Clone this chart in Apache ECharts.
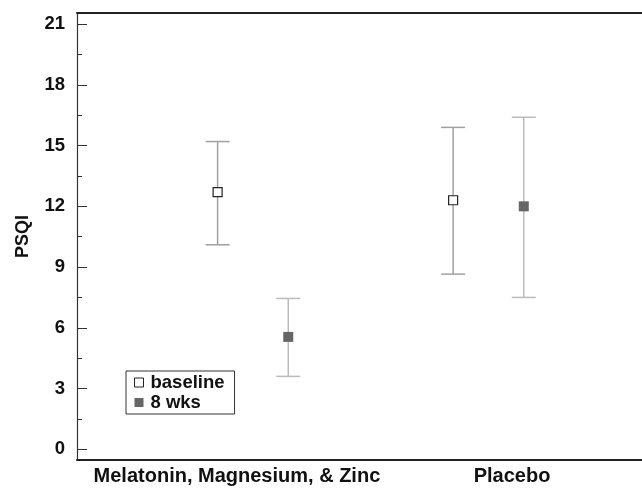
<!DOCTYPE html>
<html>
<head>
<meta charset="utf-8">
<script src="https://cdn.jsdelivr.net/npm/echarts@6/dist/echarts.min.js"></script>
<style>
  html, body { margin: 0; padding: 0; background: #fff; }
  #psqi { width: 642px; height: 488px; }
</style>
</head>
<body>
<div id="psqi"></div>
<script>
// groups on the x axis
const groups = ['Melatonin, Magnesium, & Zinc', 'Placebo'];

// baseline: mean and error bar ends
const baseMean = [12.7, 12.3];
const baseLow = [10.1, 8.65];
const baseHigh = [15.2, 15.9];

// 8 weeks: mean and error bar ends
const wkMean = [5.55, 12.0];
const wkLow = [3.6, 7.5];
const wkHigh = [7.45, 16.4];

const yTicks = [0, 3, 6, 9, 12, 15, 18, 21];
const yMinor = [1.5, 4.5, 7.5, 10.5, 13.5, 16.5, 19.5];

const FONT = 'Liberation Sans, Arial, sans-serif';
const shift = 0.15;      // side offset of each series inside its group
const labelPos = [0.932, 2.1];

function pts(mean, low, high, off) {
    return mean.map(function (m, i) { return [i + 1 + off, m, low[i], high[i]]; });
}

function errBars(color) {
    return function (params, api) {
        const x = api.value(0);
        const lo = api.coord([x, api.value(2)]);
        const hi = api.coord([x, api.value(3)]);
        const w = 12;
        const st = { stroke: color, lineWidth: 1.5 };
        return {
            type: 'group',
            children: [
                { type: 'line', shape: { x1: lo[0], y1: lo[1], x2: hi[0], y2: hi[1] }, style: st },
                { type: 'line', shape: { x1: lo[0] - w, y1: lo[1], x2: lo[0] + w, y2: lo[1] }, style: st },
                { type: 'line', shape: { x1: hi[0] - w, y1: hi[1], x2: hi[0] + w, y2: hi[1] }, style: st }
            ]
        };
    };
}

const chart = echarts.init(document.getElementById('psqi'));

const option = {
    animation: false,
    backgroundColor: '#fff',
    grid: { left: 77, top: 13, right: 0, bottom: 28 },
    legend: {
        left: 126, top: 371,
        orient: 'vertical',
        itemWidth: 9, itemHeight: 9, itemGap: 1,
        padding: [2, 10, 2, 8],
        borderColor: '#333', borderWidth: 1,
        textStyle: { fontFamily: FONT, fontWeight: 'bold', fontSize: 18.5, color: '#111', padding: [0, 0, 0, 2] },
        data: [
            { name: 'baseline', icon: 'rect', itemStyle: { color: '#fff', borderColor: '#222', borderWidth: 1 } },
            { name: '8 wks', icon: 'rect', itemStyle: { color: '#666' } }
        ]
    },
    xAxis: [
        {
            type: 'value', min: 0.253, max: 2.652,
            splitLine: { show: false },
            axisLine: { onZero: false, lineStyle: { color: '#222', width: 2 } },
            axisTick: { show: false },
            axisLabel: {
                customValues: labelPos,
                margin: 6,
                fontFamily: FONT, fontWeight: 'bold', fontSize: 20, color: '#111',
                formatter: function (v) { return v < 1.5 ? groups[0] : groups[1]; }
            }
        },
        {
            type: 'value', position: 'top', min: 0.253, max: 2.652,
            splitLine: { show: false },
            axisLine: { onZero: false, lineStyle: { color: '#222', width: 2 } },
            axisTick: { show: false }, axisLabel: { show: false }
        }
    ],
    yAxis: [
        {
            type: 'value', min: -0.53, max: 21.55,
            name: 'PSQI', nameLocation: 'middle', nameGap: 45, nameRotate: 90,
            nameTextStyle: { fontFamily: FONT, fontWeight: 'bold', fontSize: 18, color: '#111' },
            splitLine: { show: false },
            axisLine: { onZero: false, lineStyle: { color: '#333', width: 1.2 } },
            axisTick: { customValues: yTicks, inside: true, length: 10, lineStyle: { color: '#333' } },
            axisLabel: {
                customValues: yTicks, margin: 12,
                fontFamily: FONT, fontWeight: 'bold', fontSize: 18.5, color: '#111'
            }
        },
        {
            type: 'value', min: -0.53, max: 21.55, position: 'left',
            splitLine: { show: false },
            axisLine: { show: false, onZero: false },
            axisTick: { customValues: yMinor, inside: true, length: 5, lineStyle: { color: '#333' } },
            axisLabel: { show: false }
        }
    ],
    series: [
        {
            name: 'baseline', type: 'custom', renderItem: errBars('#a0a0a0'),
            data: pts(baseMean, baseLow, baseHigh, -shift), z: 1
        },
        {
            name: '8 wks', type: 'custom', renderItem: errBars('#bbbbbb'),
            data: pts(wkMean, wkLow, wkHigh, shift), z: 1
        },
        {
            name: 'baseline', type: 'scatter', symbol: 'rect', symbolSize: 9,
            itemStyle: { color: '#fff', borderColor: '#222', borderWidth: 1.2, opacity: 1 },
            data: pts(baseMean, baseLow, baseHigh, -shift).map(function (d) { return [d[0], d[1]]; }), z: 3
        },
        {
            name: '8 wks', type: 'scatter', symbol: 'rect', symbolSize: 10,
            itemStyle: { color: '#666', opacity: 1 },
            data: pts(wkMean, wkLow, wkHigh, shift).map(function (d) { return [d[0], d[1]]; }), z: 3
        }
    ]
};

chart.setOption(option);
</script>
</body>
</html>
